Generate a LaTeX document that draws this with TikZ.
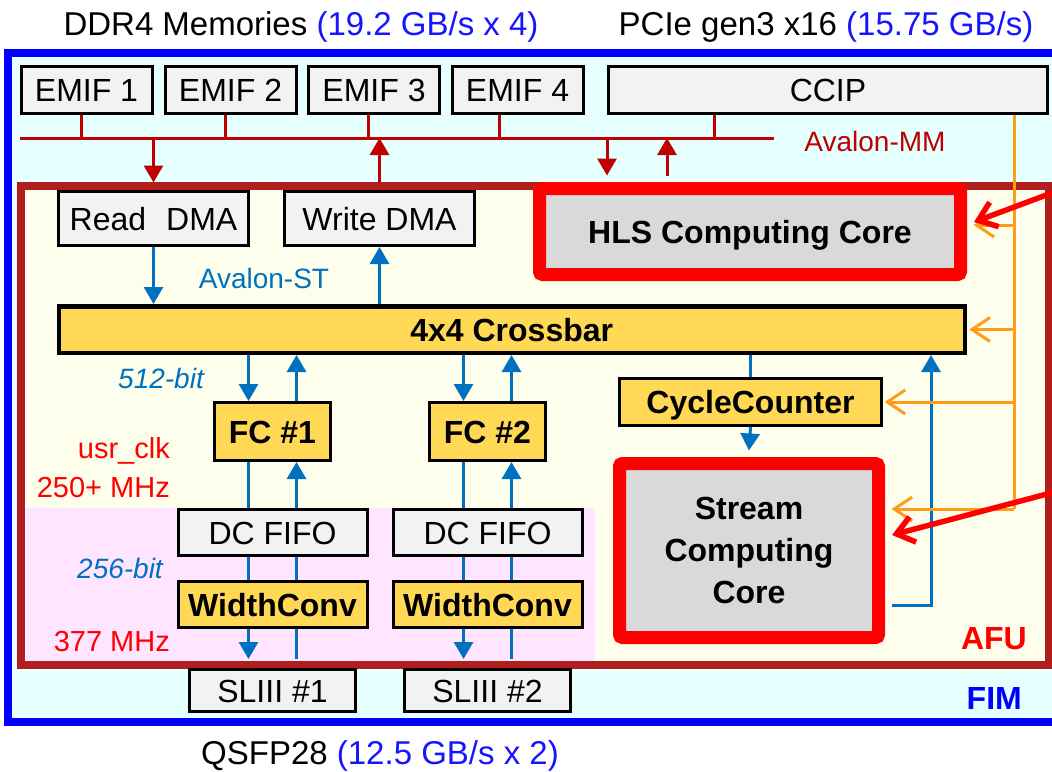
\documentclass[tikz,border=0pt]{standalone}
\usepackage{fontspec}
\setmainfont{Liberation Sans}
\usetikzlibrary{arrows.meta,calc}
\definecolor{fimblue}{HTML}{0000FF}
\definecolor{capblue}{HTML}{1515FF}
\definecolor{fimfill}{HTML}{E6FFFF}
\definecolor{afured}{HTML}{B01E1E}
\definecolor{afufill}{HTML}{FDFFEC}
\definecolor{pinkfill}{HTML}{FFE5FF}
\definecolor{boxgray}{HTML}{F2F2F2}
\definecolor{coregray}{HTML}{D9D9D9}
\definecolor{ylw}{HTML}{FFD955}
\definecolor{stblue}{HTML}{0070C0}
\definecolor{orng}{HTML}{FF9C1A}
\definecolor{mmred}{HTML}{C00000}
\definecolor{brightred}{HTML}{FF0000}
\newcommand\fsz[2]{\fontsize{#1}{#2}\selectfont}
\begin{document}
\begin{tikzpicture}[x=1pt,y=-1pt,
  gbox/.style={draw=black, line width=3pt, fill=boxgray, inner sep=0pt,
    font=\fsz{32}{38}, text height=23pt, text depth=0pt},
  ybox/.style={gbox, fill=ylw, font=\bfseries\fsz{32}{38}},
  corebox/.style={draw=brightred, line width=13pt, fill=coregray, rounded corners=3pt,
    inner sep=0pt, font=\bfseries\fsz{32}{42}, align=center},
  capt/.style={inner sep=0pt, font=\fsz{33}{40}, text height=24pt, text depth=0pt},
  lbl/.style={inner sep=0pt, font=\fsz{28}{34}, text height=20pt, text depth=0pt},
  clbl/.style={inner sep=0pt, font=\fsz{29}{34}, text height=21pt, text depth=0pt, text=brightred},
  mmline/.style={draw=mmred, line width=3pt},
  mmarr/.style={mmline, -{Triangle[length=17pt,width=19pt]}},
  stline/.style={draw=stblue, line width=3pt},
  starr/.style={stline, -{Triangle[length=17pt,width=19pt]}},
  oline/.style={draw=orng, line width=3pt},
  oarr/.style={oline, -{Straight Barb[length=18pt,width=24pt]}},
  bigarr/.style={draw=brightred, line width=5.5pt, -{Straight Barb[length=17pt,width=26pt]}}
]
\useasboundingbox (0,0) rectangle (1052,771);
\clip (0,0) rectangle (1052,771);
\fill[white] (0,0) rectangle (1052,771);

% FIM
\node[draw=fimblue, line width=8pt, fill=fimfill, minimum width=1060pt, minimum height=668.5pt, inner sep=0pt] (fim) at (538,387.25) {};

% captions
\node[capt] (ddr) at (301,23) {DDR4 Memories \textcolor{capblue}{(19.2 GB/s x 4)}};
\node[capt] (pcie) at (826,23) {PCIe gen3 x16 \textcolor{capblue}{(15.75 GB/s)}};
\node[capt] (qsfp) at (380,752) {QSFP28 \textcolor{capblue}{(12.5 GB/s x 2)}};

% EMIF and CCIP
\node[gbox, minimum width=131pt, minimum height=47pt] (e1) at (86.5,90) {EMIF 1};
\node[gbox, minimum width=131pt, minimum height=47pt] (e2) at (230.5,90) {EMIF 2};
\node[gbox, minimum width=131pt, minimum height=47pt] (e3) at (374,90) {EMIF 3};
\node[gbox, minimum width=131pt, minimum height=47pt] (e4) at (517.5,90) {EMIF 4};
\node[gbox, minimum width=439pt, minimum height=47pt] (ccip) at (828,90) {CCIP};

% Avalon-MM bus
\coordinate (busL) at (20,138);
\coordinate (busR) at (774,138);
\draw[mmline] (busL) -- (busR);
\draw[mmline] ([xshift=-5.5pt]e1.south) -- ([xshift=-5.5pt]e1.south |- busL);
\draw[mmline] ([xshift=-5.5pt]e2.south) -- ([xshift=-5.5pt]e2.south |- busL);
\draw[mmline] ([xshift=-6pt]e3.south) -- ([xshift=-6pt]e3.south |- busL);
\draw[mmline] ([xshift=-18.5pt]e4.south) -- ([xshift=-18.5pt]e4.south |- busL);
\draw[mmline] ([xshift=-114pt]ccip.south) -- ([xshift=-114pt]ccip.south |- busL);
\node[lbl, text=mmred] (amm) at (875,141) {Avalon-MM};

% AFU
\node[draw=afured, line width=8pt, fill=afufill, minimum width=1027.5pt, minimum height=478.5pt, inner sep=0pt] (afu) at (534.75,425.25) {};
\fill[pinkfill] (25,508) rectangle (595,660.5);

% DMA
\node[gbox, minimum width=190pt, minimum height=54pt] (rdma) at (153.5,218.5) {Read\hspace{0.35em} DMA};
\node[gbox, minimum width=190pt, minimum height=54pt] (wdma) at (379.5,218.5) {Write DMA};

% HLS core
\node[corebox, minimum width=421pt, minimum height=86pt, text height=23pt, text depth=0pt] (hls) at (750,231.5) {HLS Computing Core};

% Crossbar
\node[ybox, line width=4.5pt, minimum width=906pt, minimum height=46.5pt] (xbar) at (511.75,329.5) {4x4 Crossbar};

% FC / FIFO / WidthConv / SLIII
\node[ybox, minimum width=116pt, minimum height=58pt] (fc1) at (272.5,431.5) {FC \#1};
\node[ybox, minimum width=116pt, minimum height=58pt] (fc2) at (487.5,431.5) {FC \#2};
\node[gbox, minimum width=189pt, minimum height=46pt] (fifo1) at (272.5,532.5) {DC FIFO};
\node[gbox, minimum width=189pt, minimum height=46pt] (fifo2) at (487.5,532.5) {DC FIFO};
\node[ybox, minimum width=189pt, minimum height=46pt] (wc1) at (272.5,604.5) {WidthConv};
\node[ybox, minimum width=189pt, minimum height=46pt] (wc2) at (487.5,604.5) {WidthConv};
\node[gbox, minimum width=166pt, minimum height=42pt] (sl1) at (272.5,690.5) {SLIII \#1};
\node[gbox, minimum width=166pt, minimum height=42pt] (sl2) at (487.5,690.5) {SLIII \#2};

% CycleCounter and stream core
\node[ybox, minimum width=262pt, minimum height=47pt] (cc) at (750.5,402) {CycleCounter};
\node[corebox, minimum width=259pt, minimum height=174pt] (stream) at (749,550.5) {Stream\\Computing\\Core};

% Avalon-MM arrows
\draw[mmarr] (rdma.north |- busL) -- ([yshift=7.5pt]rdma.north);
\draw[mmarr] ([yshift=7.5pt]wdma.north) -- (wdma.north |- busL);
\draw[mmarr] ([xshift=-143pt]hls.north |- busL) -- ([xshift=-143pt,yshift=6.5pt]hls.north);
\draw[mmarr] ([xshift=-83pt,yshift=6.5pt]hls.north) -- ([xshift=-83pt]hls.north |- busL);

% Avalon-ST
\draw[starr] (rdma.south) -- (rdma.south |- xbar.north);
\draw[starr] (wdma.south |- xbar.north) -- (wdma.south);
\node[lbl, text=stblue] (ast) at (264,278) {Avalon-ST};

\foreach \k in {1,2} {
  \draw[starr] ([xshift=-24pt]fc\k.north |- xbar.south) -- ([xshift=-24pt]fc\k.north);
  \draw[starr] ([xshift=24pt]fc\k.north) -- ([xshift=24pt]fc\k.north |- xbar.south);
  \draw[stline] ([xshift=-24pt]fc\k.south) -- ([xshift=-24pt]fifo\k.north);
  \draw[starr] ([xshift=24pt]fifo\k.north) -- ([xshift=24pt]fc\k.south);
  \draw[stline] ([xshift=-24pt]fifo\k.south) -- ([xshift=-24pt]wc\k.north);
  \draw[stline] ([xshift=24pt]wc\k.north) -- ([xshift=24pt]fifo\k.south);
  \draw[starr] ([xshift=-24pt]wc\k.south) -- ([xshift=-24pt,yshift=9pt]sl\k.north);
  \draw[stline] ([xshift=24pt,yshift=9pt]sl\k.north) -- ([xshift=24pt]wc\k.south);
}

\draw[stline] (cc.north |- xbar.south) -- (cc.north);
\draw[starr] (cc.south) -- ([yshift=6.5pt]stream.north);
\draw[starr] ([xshift=6.5pt,yshift=-54.5pt]stream.east) -| ([xshift=419.25pt]xbar.south);

% orange clock lines
\coordinate (otop) at ([xshift=186pt]ccip.south);
\coordinate (oh) at ([xshift=6.5pt,yshift=6.5pt]hls.east);
\coordinate (ox) at ([xshift=2.25pt]xbar.east);
\coordinate (oc) at ([xshift=1.5pt]cc.east);
\coordinate (os) at ([xshift=6.5pt,yshift=41.5pt]stream.east);
\draw[oline] (otop) -- (otop |- os);
\draw[oarr] (otop |- oh) -- (oh);
\draw[oarr] (otop |- ox) -- (ox);
\draw[oarr] (otop |- oc) -- (oc);
\draw[oarr] (otop |- os) -- (os);

% red pointer arrows
\coordinate (src1) at (1100,175);
\coordinate (src2) at (1100,480);
\draw[bigarr] (src1) -- ([xshift=7pt,yshift=9.5pt]hls.east);
\draw[bigarr] (src2) -- ([xshift=7pt,yshift=15.5pt]stream.east);

% side labels
\node[lbl, text=stblue, font=\itshape\fsz{28}{34}, anchor=east] (b512) at (204,378) {512-bit};
\node[clbl, anchor=east] (uclk) at (170,448) {usr\_clk};
\node[clbl, anchor=east] (f250) at (170,487) {250+ MHz};
\node[lbl, text=stblue, font=\itshape\fsz{28}{34}, anchor=east] (b256) at (163,568) {256-bit};
\node[clbl, anchor=east] (f377) at (170,641) {377 MHz};
\node[inner sep=0pt, font=\bfseries\fsz{32}{38}, text height=23pt, text depth=0pt, text=brightred, anchor=east] (afulbl) at (1027,638) {AFU};
\node[inner sep=0pt, font=\bfseries\fsz{32}{38}, text height=23pt, text depth=0pt, text=fimblue, anchor=east] (fimlbl) at (1022,698) {FIM};
\end{tikzpicture}
\end{document}
